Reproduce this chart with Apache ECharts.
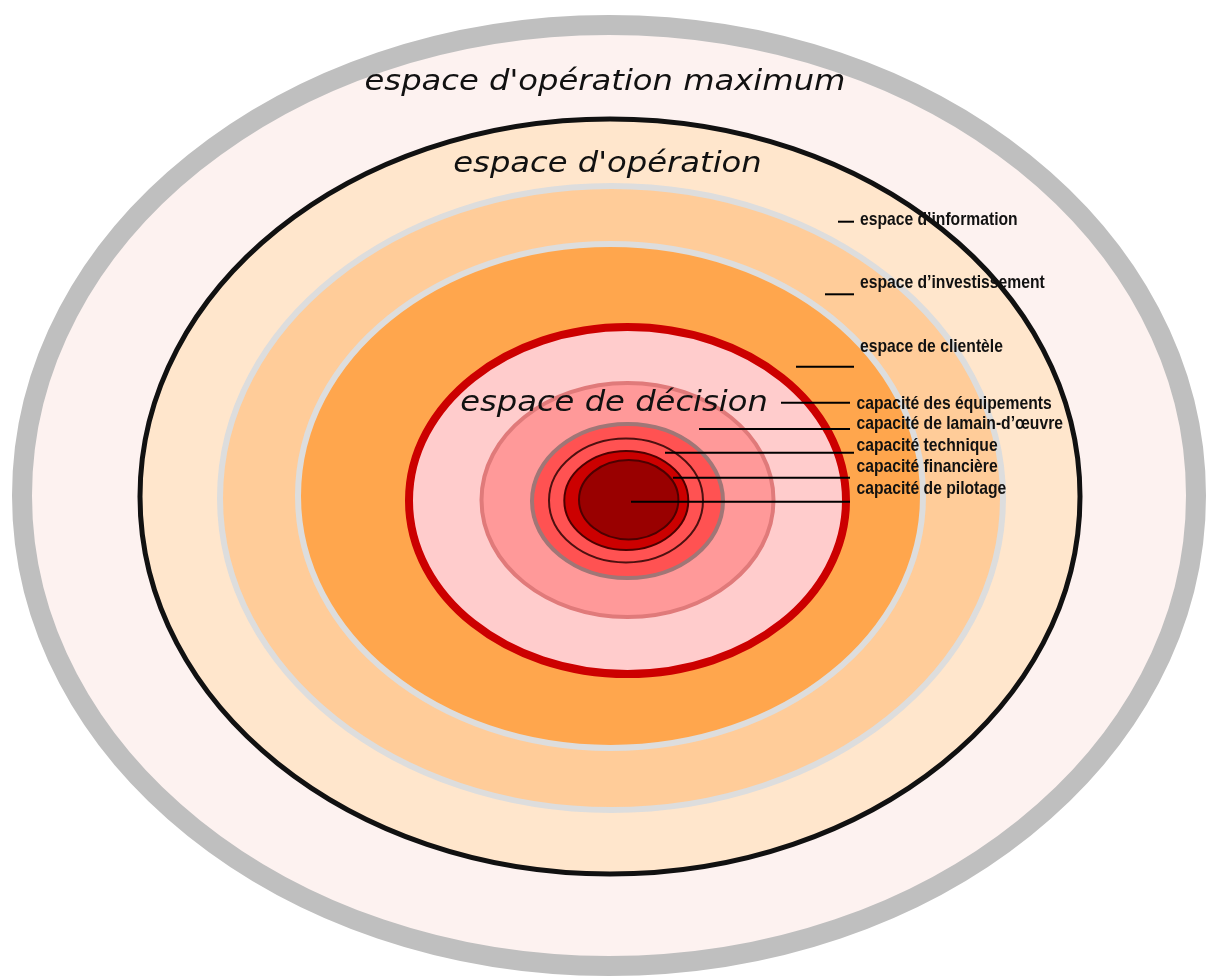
<!DOCTYPE html>
<html>
<head>
<meta charset="utf-8">
<title>espaces</title>
<script src="https://cdn.jsdelivr.net/npm/echarts@6/dist/echarts.min.js"></script>
<style>
  html, body { margin: 0; padding: 0; background: #fff; }
  #chart { width: 1208px; height: 976px; }
</style>
</head>
<body>
<div id="chart"></div>
<script>
// nested spaces, outer to inner (diagram units = px of the original)
const ringCenterX = [609, 610, 611.5, 610.5, 627.5, 627.5, 627.5, 626, 626.3, 628.7]
const ringCenterY = [495.5, 496.5, 498, 496, 500.5, 500, 501, 500.5, 500.5, 499.7]
const ringRadiusX = [587, 470, 391.5, 312.5, 218.5, 146, 95.5, 77, 62, 49.7]
const ringRadiusY = [470.5, 377.5, 312, 252, 173.5, 117, 77, 62, 49.5, 39.7]

const titleNames = ["espace d'opération maximum", "espace d'opération", 'espace de décision']
const titleX = [605, 607.5, 614]
const titleY = [83, 165, 404]

const labelNames = [
  'espace d’information',
  'espace d’investissement',
  'espace de clientèle',
  'capacité des équipements',
  'capacité de lamain-d’œuvre',
  'capacité technique',
  'capacité financière',
  'capacité de pilotage'
]
const labelX = [860, 860, 860, 856.5, 856.5, 856.5, 856.5, 856.5]
const labelY = [220, 283, 347, 404, 424, 446, 467, 489]

const leaderFrom = [838, 825, 796, 781, 699, 665, 673, 631]
const leaderTo = [854, 854, 854, 850, 850, 854, 850, 850]
const leaderY = [221.7, 294.3, 366.7, 402.7, 429, 452.7, 477.7, 501.7]

const ringStyles = [
  { fill: '#fdf2f0', stroke: '#bfbfbf', lineWidth: 20 },
  { fill: '#ffe6cc', stroke: '#111111', lineWidth: 5 },
  { fill: '#ffcc99', stroke: '#dddddd', lineWidth: 6 },
  { fill: '#ffa64d', stroke: '#dddddd', lineWidth: 6 },
  { fill: '#ffcccc', stroke: '#cc0000', lineWidth: 8 },
  { fill: '#ff9999', stroke: '#e07a7a', lineWidth: 4 },
  { fill: '#ff5252', stroke: '#a07676', lineWidth: 4 },
  { fill: 'none', stroke: '#4d1010', lineWidth: 2 },
  { fill: '#cc0000', stroke: '#4d0000', lineWidth: 2 },
  { fill: '#990000', stroke: '#4d0000', lineWidth: 2 }
]

const chart = echarts.init(document.getElementById('chart'))

function renderRing(params, api) {
  const c = api.coord([api.value(0), api.value(1)])
  const e = api.coord([api.value(0) + api.value(2), api.value(1) + api.value(3)])
  return {
    type: 'ellipse',
    shape: { cx: c[0], cy: c[1], rx: Math.abs(e[0] - c[0]), ry: Math.abs(e[1] - c[1]) },
    style: ringStyles[params.dataIndex]
  }
}

function renderLeader(params, api) {
  const a = api.coord([api.value(0), api.value(2)])
  const b = api.coord([api.value(1), api.value(2)])
  return {
    type: 'line',
    shape: { x1: a[0], y1: a[1], x2: b[0], y2: b[1] },
    style: { stroke: '#000', lineWidth: 2 }
  }
}

function renderTitle(params, api) {
  const p = api.coord([api.value(0), api.value(1)])
  return {
    type: 'text',
    x: p[0],
    y: p[1],
    scaleX: 1.15,
    style: {
      text: titleNames[params.dataIndex],
      font: 'oblique 28px "DejaVu Sans"',
      fill: '#111',
      align: 'center',
      verticalAlign: 'middle'
    }
  }
}

// no narrow font installed, so squeeze the bold sans
function renderLabel(params, api) {
  const p = api.coord([api.value(0), api.value(1)])
  return {
    type: 'text',
    x: p[0],
    y: p[1],
    scaleX: 0.825,
    style: {
      text: labelNames[params.dataIndex],
      font: 'bold 19px "Liberation Sans", Arial, sans-serif',
      fill: '#111',
      align: 'left',
      verticalAlign: 'middle'
    }
  }
}

chart.setOption({
  animation: false,
  grid: { left: 0, right: 0, top: 0, bottom: 0 },
  xAxis: { type: 'value', min: 0, max: 1208, show: false },
  yAxis: { type: 'value', min: 0, max: 976, inverse: true, show: false },
  series: [
    {
      type: 'custom',
      clip: false,
      z: 1,
      renderItem: renderRing,
      data: ringCenterX.map((x, i) => [x, ringCenterY[i], ringRadiusX[i], ringRadiusY[i]])
    },
    {
      type: 'custom',
      z: 2,
      renderItem: renderLeader,
      data: leaderFrom.map((x, i) => [x, leaderTo[i], leaderY[i]])
    },
    {
      type: 'custom',
      z: 3,
      renderItem: renderTitle,
      data: titleX.map((x, i) => [x, titleY[i]])
    },
    {
      type: 'custom',
      z: 3,
      renderItem: renderLabel,
      data: labelX.map((x, i) => [x, labelY[i]])
    }
  ]
})
</script>
</body>
</html>
